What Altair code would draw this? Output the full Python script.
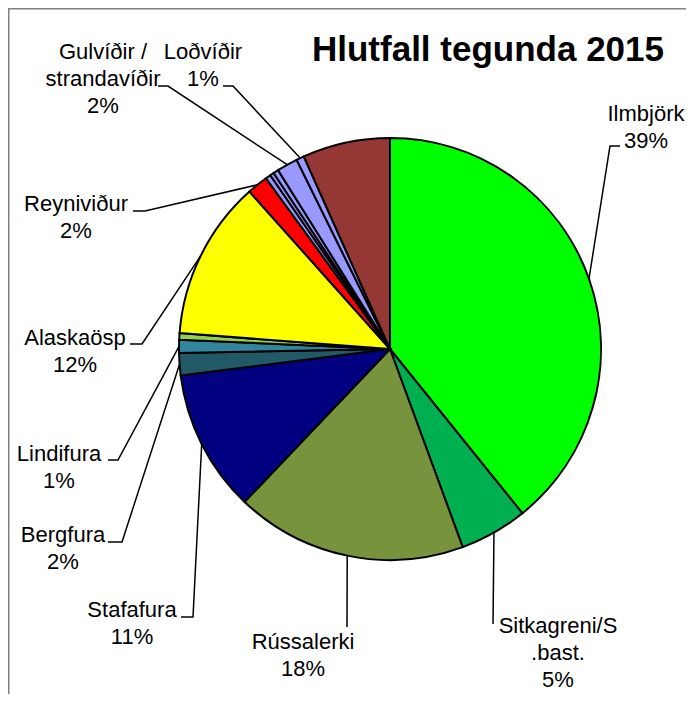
import math
import altair as alt
import pandas as pd

# ---- data (share of planted species, %) ----
species = ["Ilmbjörk", "Sitkagreni/S.bast.", "Rússalerki", "Stafafura", "Bergfura",
           "Lindifura", "Annað 1", "Alaskaösp", "Reyniviður", "Annað 2", "Annað 3",
           "Annað 4", "Gulvíðir / strandavíðir", "Loðvíðir", "Annað 5"]
shares = [39.2, 5.2, 17.7, 10.9, 1.7, 1.0, 0.5, 12.2, 1.6, 0.4, 0.3, 0.4, 1.6, 0.6, 6.7]
colors = ["#00FF00", "#00B050", "#77933C", "#000080", "#215967", "#31859C", "#92D050",
          "#FFFF00", "#FF0000", "#9999FF", "#9999FF", "#9999FF", "#9999FF", "#9999FF",
          "#953735"]

label_species = ["Ilmbjörk", "Sitkagreni/S.bast.", "Rússalerki", "Stafafura", "Bergfura",
                 "Lindifura", "Alaskaösp", "Reyniviður", "Gulvíðir / strandavíðir", "Loðvíðir"]
label_texts = ["Ilmbjörk\n39%", "Sitkagreni/S\n.bast.\n5%", "Rússalerki\n18%",
               "Stafafura\n11%", "Bergfura\n2%", "Lindifura\n1%", "Alaskaösp\n12%",
               "Reyniviður\n2%", "Gulvíðir /\nstrandavíðir\n2%", "Loðvíðir\n1%"]
title_text = "Hlutfall tegunda 2015"

# ---- layout (page pixel coordinates) ----
OFF = 8
W, H = 678, 686
CX, CY, R = 390 - OFF, 349 - OFF, 211
label_x = [646, 558, 303, 132, 63, 59, 75, 76, 103, 203]
label_y = [121, 633, 649, 617, 542, 461, 345, 211, 59, 59]
# leader elbow and end (tick) points, page coords
elbow = [(610, 146), (493, 624), (347, 627), (193, 617), (122, 542), (118, 460),
         (142, 344), (145, 211), (168, 86), (233, 86)]
tick_end = [(620, 146), (493, 624), (347, 627), (181, 617), (108, 542), (108, 460),
            (130, 344), (133, 211), (158, 86), (223, 86)]

df = pd.DataFrame({"species": species, "share": shares, "idx": list(range(len(species)))})

total = sum(shares)
cum = {}
acc = 0.0
for s, v in zip(species, shares):
    cum[s] = (acc + v / 2) / total
    acc += v

lines = []
for i, s in enumerate(label_species):
    a = cum[s] * 2 * math.pi
    ex = CX + R * math.sin(a)
    ey = CY - R * math.cos(a)
    pts = [(ex, ey), (elbow[i][0] - OFF, elbow[i][1] - OFF),
           (tick_end[i][0] - OFF, tick_end[i][1] - OFF)]
    for k, (px, py) in enumerate(pts):
        lines.append({"label": s, "seq": k, "px": px, "py": py})
lines_df = pd.DataFrame(lines)

labels_df = pd.DataFrame({
    "text": label_texts,
    "px": [x - OFF for x in label_x],
    "py": [y - OFF for y in label_y],
})
title_df = pd.DataFrame({"text": [title_text], "px": [488 - OFF], "py": [61 - OFF]})

xs = alt.Scale(domain=[0, W], nice=False, zero=False)
ys = alt.Scale(domain=[0, H], nice=False, zero=False, reverse=True)
FONT = "Liberation Sans"

pie = alt.Chart(df).mark_arc(outerRadius=R, stroke="black", strokeWidth=2).encode(
    theta=alt.Theta("share:Q", stack=True),
    color=alt.Color("species:N", scale=alt.Scale(domain=species, range=colors), legend=None),
    order=alt.Order("idx:Q"),
    x=alt.value(CX),
    y=alt.value(CY),
)

leaders = alt.Chart(lines_df).mark_line(color="black", strokeWidth=1.5).encode(
    x=alt.X("px:Q", scale=xs, axis=None),
    y=alt.Y("py:Q", scale=ys, axis=None),
    detail="label:N",
    order="seq:Q",
)

labels = alt.Chart(labels_df).mark_text(
    font=FONT, fontSize=22, align="center", baseline="alphabetic",
    lineBreak="\n", lineHeight=27, color="black",
).encode(
    x=alt.X("px:Q", scale=xs, axis=None),
    y=alt.Y("py:Q", scale=ys, axis=None),
    text="text:N",
)

title = alt.Chart(title_df).mark_text(
    font=FONT, fontSize=35, fontWeight="bold", align="center", baseline="alphabetic",
    color="black",
).encode(
    x=alt.X("px:Q", scale=xs, axis=None),
    y=alt.Y("py:Q", scale=ys, axis=None),
    text="text:N",
)

frame_top = alt.Chart(title_df).mark_rule(color="#808080", strokeWidth=1.5).encode(
    x=alt.value(0), x2=alt.value(W), y=alt.value(0.75))
frame_left = alt.Chart(title_df).mark_rule(color="#808080", strokeWidth=1.5).encode(
    x=alt.value(0.75), y=alt.value(0), y2=alt.value(H))

chart = alt.layer(frame_top, frame_left, pie, leaders, labels, title).properties(
    width=W, height=H, padding=0,
    autosize=alt.AutoSizeParams(type="none"),
).configure_view(stroke=None)

chart.save("out.html", embed_options={"renderer": "svg", "actions": False})
